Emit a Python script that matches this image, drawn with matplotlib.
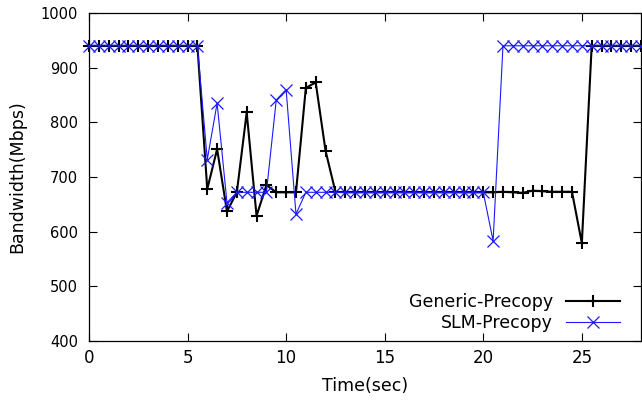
import matplotlib
matplotlib.use('Agg')
import matplotlib.pyplot as plt
import numpy as np

# sample every 0.5 s
time = np.arange(0, 28.01, 0.5)

generic = [940] * 12 + [678, 751, 637, 672, 818, 629, 685, 672, 672, 672,
                        863, 873, 748, 673] + [672] * 16 + \
          [673, 672, 671, 675, 674, 673, 673, 673, 579] + [940] * 6
slm = [940] * 12 + [732, 835, 653, 672, 672, 672, 672, 841, 860, 632] + \
      [672] * 19 + [583] + [940] * 15

plt.rcParams['font.family'] = 'DejaVu Sans'
plt.rcParams['font.size'] = 12.5

fig = plt.figure(figsize=(6.42, 4.01), dpi=100)
ax = fig.add_axes([0.1386, 0.1496, 0.8598, 0.818])

ax.plot(time, generic, color='black', lw=1.5, marker='+', ms=9, mew=1.5,
        label='Generic-Precopy', clip_on=False, zorder=3)
ax.plot(time, slm, color='#1a1aff', lw=0.8, marker='x', ms=8, mew=0.9,
        label='SLM-Precopy', clip_on=False, zorder=4)

ax.set_xlim(0, 28)
ax.set_ylim(400, 1000)
ax.set_xticks(range(0, 26, 5))
ax.set_yticks(range(400, 1001, 100))
ax.tick_params(direction='in', length=6, top=True, right=True, width=0.8)
ax.tick_params(axis='x', pad=6, labelsize=12)
ax.tick_params(axis='y', pad=8, labelsize=10.5)
ax.set_xlabel('Time(sec)', labelpad=7)
ax.set_ylabel('Bandwidth(Mbps)', labelpad=10)
for s in ax.spines.values():
    s.set_linewidth(0.9)

ax.legend(loc='lower right', bbox_to_anchor=(0.99, -0.02), frameon=False,
          markerfirst=False, handlelength=3.1, handletextpad=0.75,
          labelspacing=0.15, numpoints=1, fontsize=12.5)

fig.savefig('out.png', dpi=100)
